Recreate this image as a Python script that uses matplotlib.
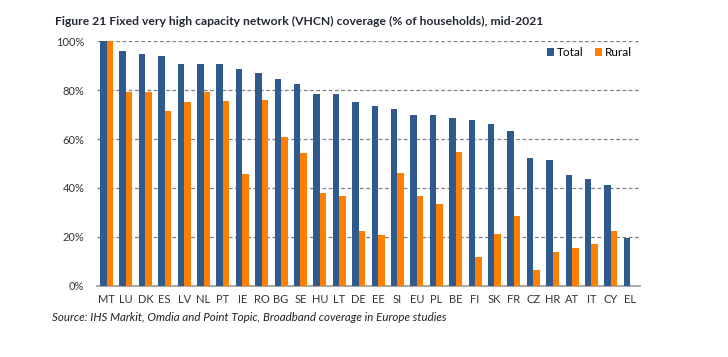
import numpy as np
import matplotlib.pyplot as plt
from matplotlib.ticker import PercentFormatter

plt.rcParams['font.family'] = ['Lato', 'DejaVu Sans']

countries = ['MT', 'LU', 'DK', 'ES', 'LV', 'NL', 'PT', 'IE', 'RO', 'BG', 'SE', 'HU', 'LT', 'DE',
             'EE', 'SI', 'EU', 'PL', 'BE', 'FI', 'SK', 'FR', 'CZ', 'HR', 'AT', 'IT', 'CY', 'EL']
total = [100, 95.8, 94.8, 93.9, 90.5, 90.5, 90.5, 88.7, 86.9, 84.6, 82.3, 78.5, 78.2, 75.0,
         73.3, 72.2, 69.9, 69.7, 68.7, 67.6, 66.3, 63.1, 52.1, 51.3, 45.2, 43.8, 41.1, 19.6]
rural = [100, 79.0, 79.0, 71.4, 75.2, 79.0, 75.6, 45.6, 75.8, 60.8, 54.1, 38.1, 36.9, 22.3,
         21.0, 46.3, 36.7, 33.3, 54.8, 12.0, 21.2, 28.6, 6.5, 13.7, 15.4, 17.1, 22.3, 0]

blue = '#2E5A8E'
orange = '#FF8000'

fig = plt.figure(figsize=(7.28, 3.57), dpi=100)
ax = fig.add_axes([0.133, 0.199, 0.746, 0.686])

x = np.arange(len(countries))
w = 0.335
ax.bar(x - w / 2, total, w, color=blue, label='Total', zorder=3)
ax.bar(x + w / 2, rural, w, color=orange, label='Rural', zorder=3)

ax.set_xlim(-0.5, len(countries) - 0.5)
ax.set_ylim(0, 100)
ax.set_yticks(range(0, 101, 20))
ax.yaxis.set_major_formatter(PercentFormatter(decimals=0))
ax.set_xticks(x)
ax.set_xticklabels(countries)
ax.tick_params(axis='both', length=0, labelsize=8, colors='#333333')
ax.tick_params(axis='x', pad=6)
ax.tick_params(axis='y', pad=9)

ax.grid(axis='y', linestyle=(0, (3, 2)), color='#808080', linewidth=0.9, zorder=0)
for s in ['top', 'right', 'left']:
    ax.spines[s].set_visible(False)
ax.spines['bottom'].set_color('#999999')
ax.spines['bottom'].set_linewidth(1.2)

ax.legend(loc='upper right', bbox_to_anchor=(0.995, 0.995), frameon=False, fontsize=8.5,
          handlelength=0.6, handleheight=0.6, handletextpad=0.3, columnspacing=0.9,
          ncol=2, borderaxespad=0)

fig.text(0.076, 0.94, 'Figure 21 Fixed very high capacity network (VHCN) coverage (% of households), mid-2021',
         fontsize=8.7, fontweight='bold', color='#222833', va='center')
fig.text(0.072, 0.11, 'Source: IHS Markit, Omdia and Point Topic, Broadband coverage in Europe studies',
         fontsize=8.25, style='italic', color='#222222', va='center')

fig.savefig('out.png', dpi=100)
